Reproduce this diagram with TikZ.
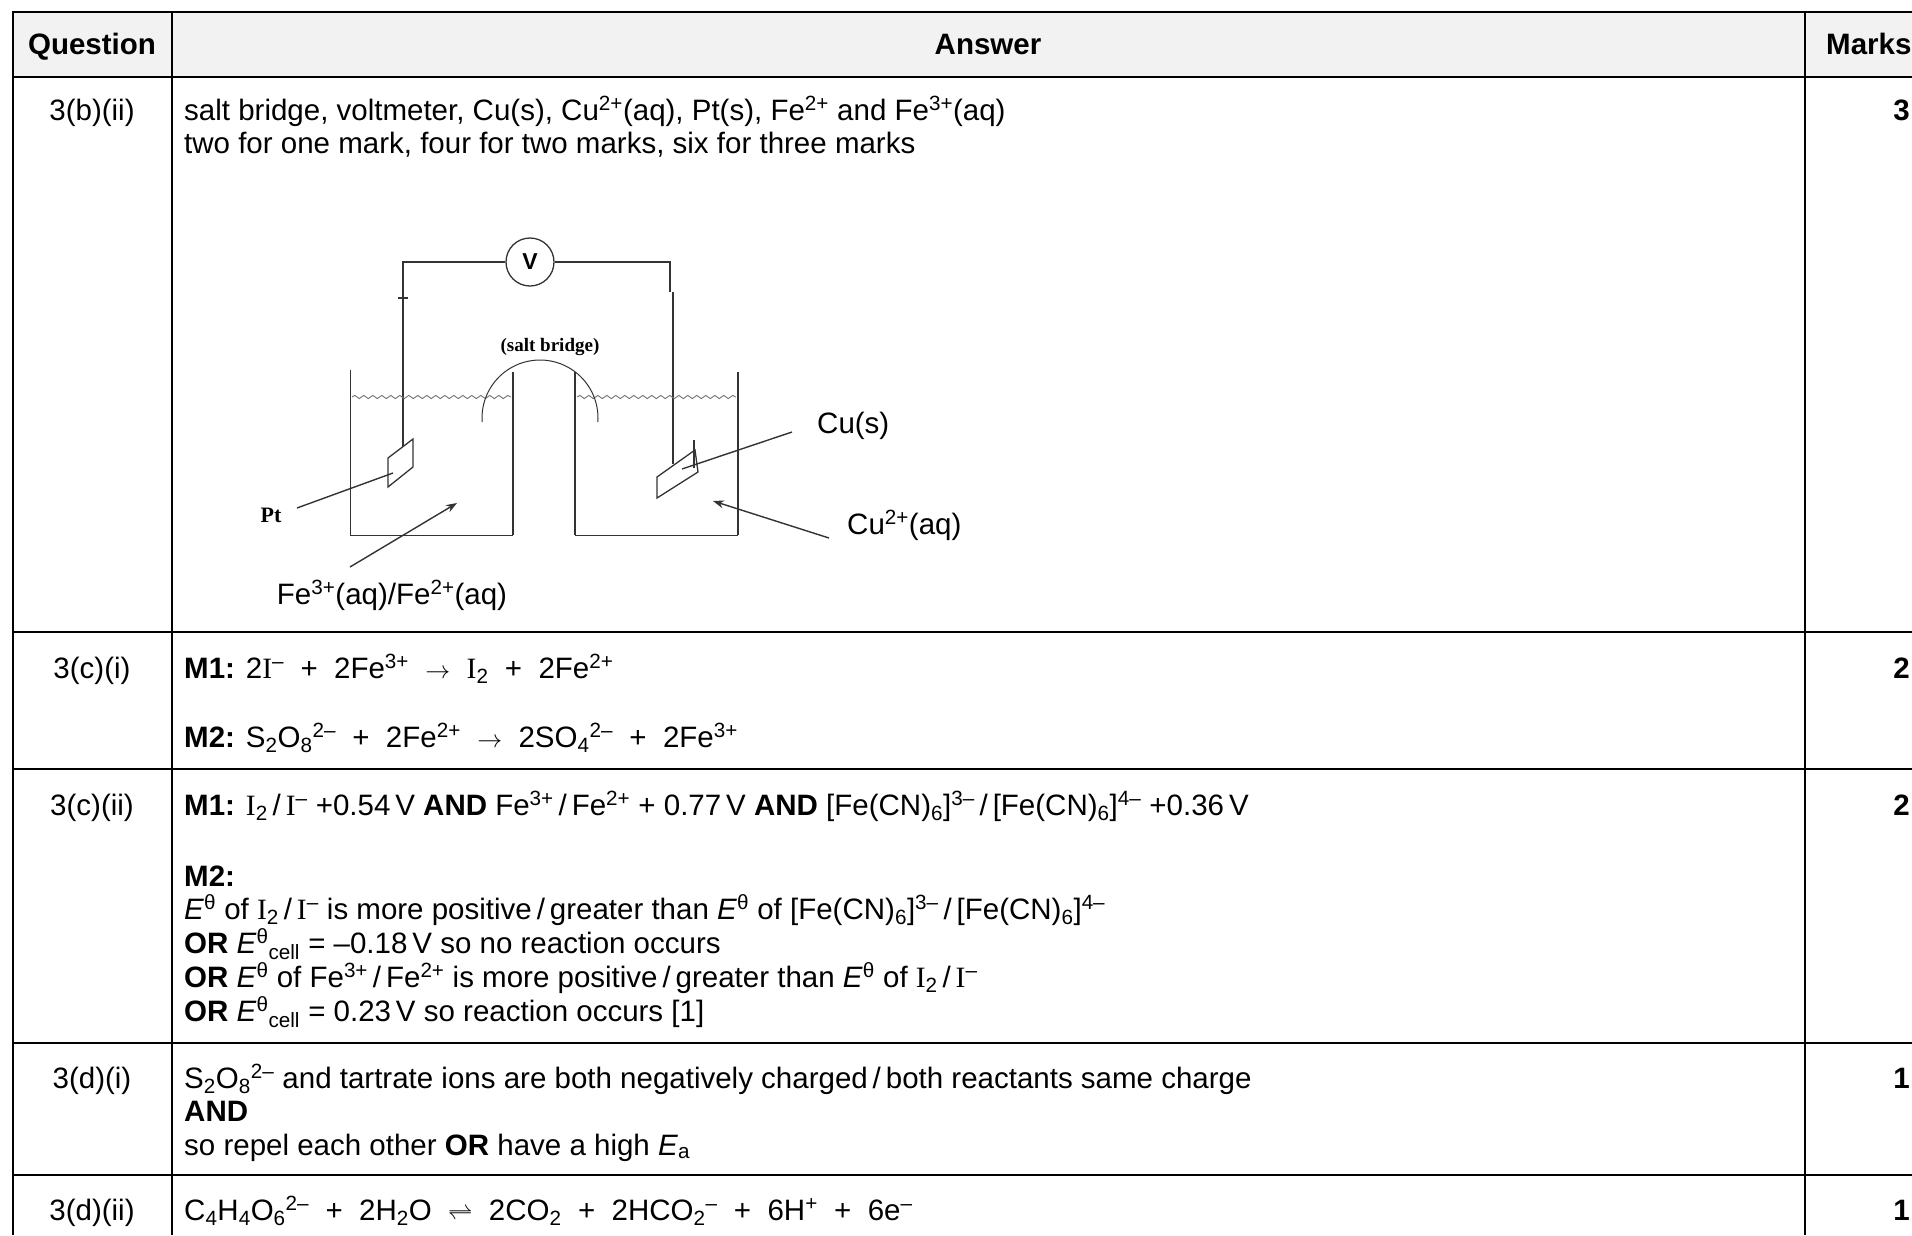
\documentclass[tikz,border=0pt]{standalone}
\usepackage{fontspec}
\setmainfont{Liberation Sans}
\newfontfamily\iodfont{Liberation Serif}
\newfontfamily\figfont{Liberation Serif}
\usetikzlibrary{positioning,arrows.meta,decorations.pathmorphing}

\newcommand{\bodysize}{\fontsize{29.5}{34}\selectfont}
\newcommand{\ssup}[1]{\textsuperscript{#1}}
\newcommand{\ssub}[1]{\textsubscript{#1}}
\newcommand{\iod}{{\iodfont I}}
\newcommand{\Eo}{\textit{E}\textsuperscript{θ}}
\newcommand{\plus}{\ \ +\ \ }
\newcommand{\slsh}{\,/\,}

\tikzset{
  rule/.style={line width=2pt},
  body/.style={anchor=base west,inner sep=0pt,font=\bodysize},
  head/.style={inner sep=0pt,font=\bodysize\bfseries},
  kit/.style={draw=black!80,line width=1.3pt},
  water/.style={draw=black!55,line width=0.9pt,decorate,
    decoration={snake,segment length=9pt,amplitude=1.6pt}},
  pointer/.style={draw=black!80,line width=1.4pt},
  tip/.style={-{Stealth[length=11pt,width=8pt]}}
}

\begin{document}
\begin{tikzpicture}[x=1pt,y=-1pt]
\useasboundingbox (0,0) rectangle (1912,1235);
% table
\fill[black!5] (13,12) rectangle (1912,77);
\draw[rule] (1912,12) -- (13,12) -- (13,1235);
\draw[rule] (172,12) -- (172,1235);
\draw[rule] (1805,12) -- (1805,1235);
\foreach \y in {77,632,769,1043,1175}
  \draw[rule] (13,\y) -- (1912,\y);
\node[head,anchor=base] (hq) at (92,54) {Question};
\node[head,anchor=base] (ha) at (988,54) {Answer};
\node[head,anchor=base west] (hm) at (1826,54) {Marks};
\foreach \q/\m/\y in {3(b)(ii)/3/120,3(c)(i)/2/678,3(c)(ii)/2/815,3(d)(i)/1/1088,3(d)(ii)/1/1220}{
  \node[body,anchor=base] (q\y) at (92,\y) {\q};
  \node[head,anchor=base east] (m\y) at (1910,\y) {\m};
}

% 3(b)(ii)
\node[body] (b1) at (184,120) {salt bridge, voltmeter, Cu(s), Cu\ssup{2+}(aq), Pt(s), Fe\ssup{2+} and Fe\ssup{3+}(aq)};
\node[body] (b2) at (184,153) {two for one mark, four for two marks, six for three marks};

% the cell
\node[circle,kit,minimum size=48pt,inner sep=0pt,font=\fontsize{23}{23}\selectfont\bfseries] (volt) at (530,262) {V};
\coordinate (ptTop) at (403,447);
\coordinate (cuTop) at (673,464);
\draw[kit] (volt.west) -- (403,262) -- (ptTop);
\draw[kit] (volt.east) -- (670,262) -- (670,292);
\draw[kit,line width=2pt] (673,292) -- (cuTop);
\draw[kit,line width=2.2pt] (398,298) -- (408,298);
\draw[kit,line width=1pt] (350,370) -- (350,535) -- (513,535);
\draw[kit,line width=1.8pt] (513,535) -- (513,372);
\draw[kit,line width=1.8pt] (575,372) -- (575,535);
\draw[kit,line width=1pt] (575,535) -- (738,535);
\draw[kit,line width=1.8pt] (738,535) -- (738,372);
\draw[water] (352,397) -- (511,397);
\draw[water] (577,397) -- (736,397);
\draw[kit,line width=1pt] plot[domain=-4:184,samples=50,smooth] ({540+58*cos(\x)},{418-58*sin(\x)});
\node[inner sep=0pt,font=\fontsize{19}{19}\figfont\bfseries] (bridge) at (550,347) {(salt bridge)};
\draw[kit] (388,458) -- (413,439) -- (413,467) -- (388,487) -- cycle;
\draw[kit] (657,477) -- (695,450) -- (698,472) -- (657,498) -- cycle;
\draw[kit] (694,440) -- (694,468);

% labels on the cell
\node[inner sep=0pt,font=\fontsize{22}{22}\figfont\bfseries] (ptlab) at (271,515) {Pt};
\coordinate (ptEnd) at (393,473);
\draw[pointer] (297,508) -- (ptEnd);
\node[body,anchor=base] (felab) at (392,604) {Fe\ssup{3+}(aq)/Fe\ssup{2+}(aq)};
\coordinate (feStart) at (350,567);
\coordinate (feEnd) at (457,503);
\draw[pointer,tip] (feStart) -- (feEnd);
\node[body] (culab) at (817,433) {Cu(s)};
\coordinate (cuStart) at (792,432);
\coordinate (cuEnd) at (682,469);
\draw[pointer] (cuStart) -- (cuEnd);
\node[body] (cuaq) at (847,534) {Cu\ssup{2+}(aq)};
\coordinate (aqStart) at (829,538);
\coordinate (aqEnd) at (713,501);
\draw[pointer,tip] (aqStart) -- (aqEnd);

% 3(c)(i)
\node[body] (c1) at (184,678) {\textbf{M1:} 2\iod\ssup{–}\plus 2Fe\ssup{3+}\ \ $\rightarrow$\ \ \iod\ssub{2}\plus 2Fe\ssup{2+}};
\node[body] (c2) at (184,747) {\textbf{M2:} S\ssub{2}O\ssub{8}\ssup{2–}\plus 2Fe\ssup{2+}\ \ $\rightarrow$\ \ 2SO\ssub{4}\ssup{2–}\plus 2Fe\ssup{3+}};

% 3(c)(ii)
\node[body] (d1) at (184,815) {\textbf{M1:} \iod\ssub{2}\slsh\iod\ssup{–} +0.54\,V \textbf{AND} Fe\ssup{3+}\slsh Fe\ssup{2+} + 0.77\,V \textbf{AND} [Fe(CN)\ssub{6}]\ssup{3–}\slsh[Fe(CN)\ssub{6}]\ssup{4–} +0.36\,V};
\node[body] (d2) at (184,886) {\textbf{M2:}};
\node[body] (d3) at (184,919) {\Eo{} of \iod\ssub{2}\slsh\iod\ssup{–} is more positive\slsh greater than \Eo{} of [Fe(CN)\ssub{6}]\ssup{3–}\slsh[Fe(CN)\ssub{6}]\ssup{4–}};
\node[body] (d4) at (184,953) {\textbf{OR} \Eo\ssub{cell} = –0.18\,V so no reaction occurs};
\node[body] (d5) at (184,987) {\textbf{OR} \Eo{} of Fe\ssup{3+}\slsh Fe\ssup{2+} is more positive\slsh greater than \Eo{} of \iod\ssub{2}\slsh\iod\ssup{–}};
\node[body] (d6) at (184,1021) {\textbf{OR} \Eo\ssub{cell} = 0.23\,V so reaction occurs [1]};

% 3(d)(i)
\node[body] (e1) at (184,1088) {S\ssub{2}O\ssub{8}\ssup{2–} and tartrate ions are both negatively charged\slsh both reactants same charge};
\node[body] (e2) at (184,1121) {\textbf{AND}};
\node[body] (e3) at (184,1155) {so repel each other \textbf{OR} have a high \textit{E}\ssub{a}};

% 3(d)(ii)
\node[body] (f1) at (184,1220) {C\ssub{4}H\ssub{4}O\ssub{6}\ssup{2–}\plus 2H\ssub{2}O\ \ $\rightleftharpoons$\ \ 2CO\ssub{2}\plus 2HCO\ssub{2}\ssup{–}\plus 6H\ssup{+}\plus 6e\ssup{–}};
\end{tikzpicture}
\end{document}
